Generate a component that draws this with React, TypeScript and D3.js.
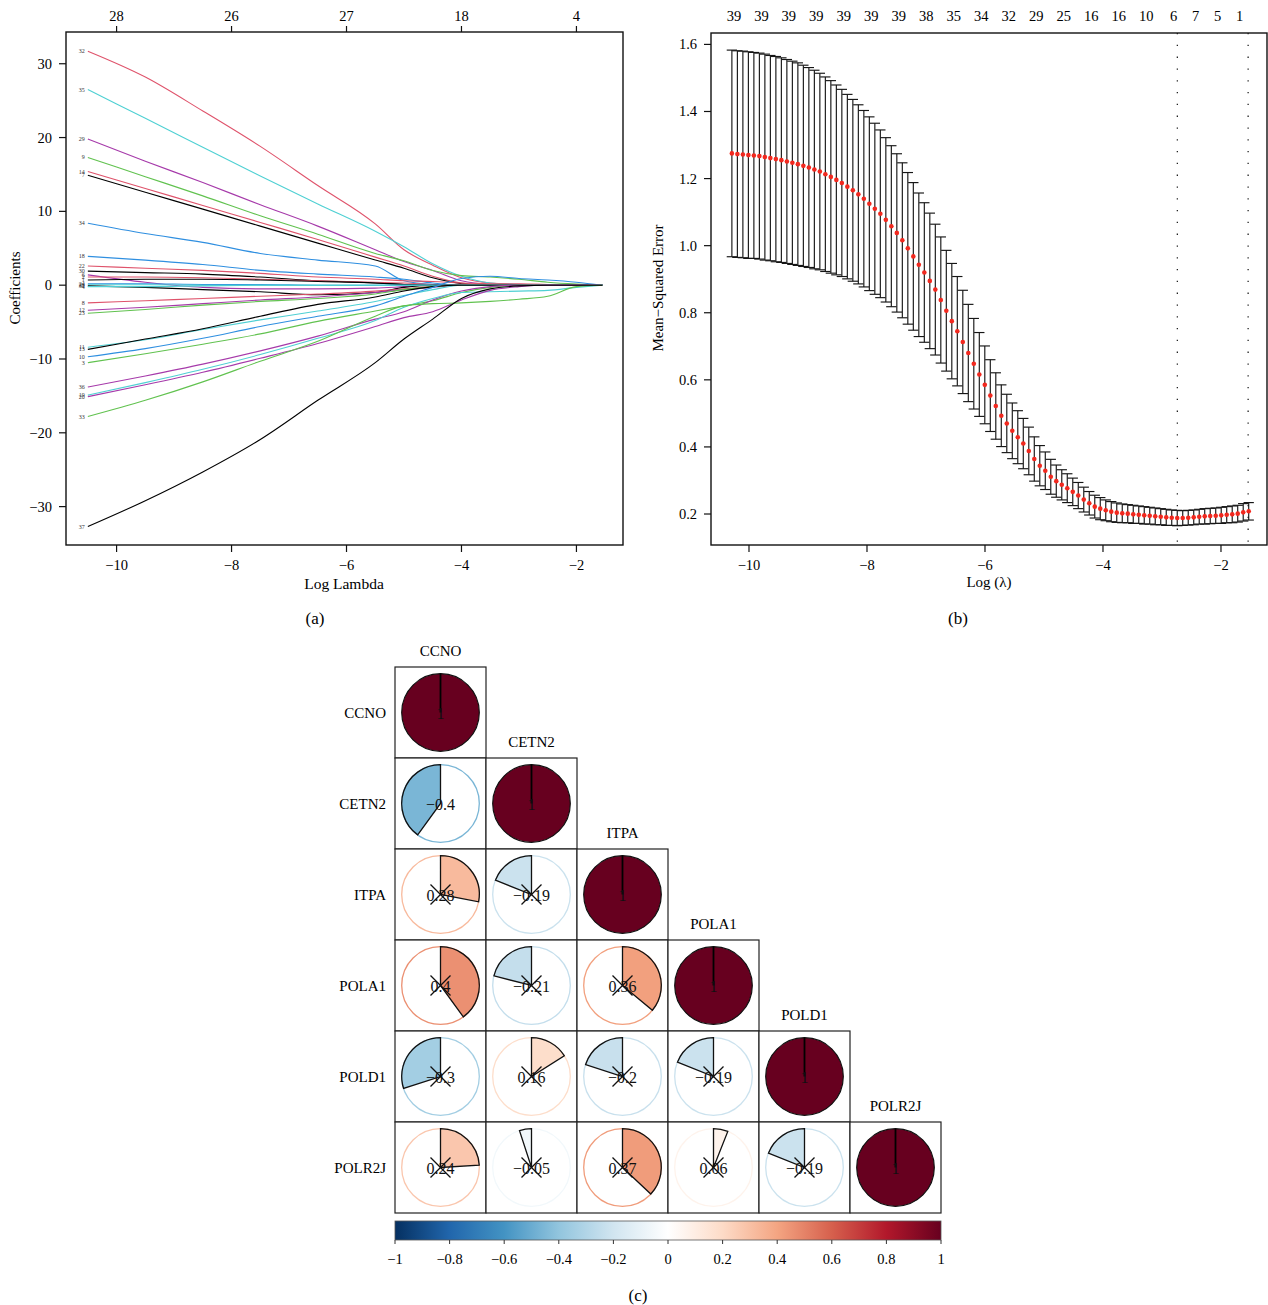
import * as d3 from 'd3'

const FONT = '"Liberation Serif", "DejaVu Serif", serif'

// ---- (a) coefficient paths ----
const lambdaGrid = [-10.5, -9.5, -8.5, -7.5, -6.5, -5.5, -5, -4.5, -4, -3.5, -3, -2.5, -2, -1.55]
const coefLabels = ['32', '35', '29', '9', '14', '7', '34', '18', '22', '30', '6', '2', '1', '24', '28', '31', '4', '8', '12', '23', '11', '13', '10', '3', '36', '19', '20', '33', '37']
const coefColors = ['red', 'cyan', 'magenta', 'green', 'red', 'black', 'blue', 'blue', 'red', 'black', 'magenta', 'red', 'black', 'blue', 'cyan', 'black', 'cyan', 'red', 'magenta', 'green', 'cyan', 'black', 'blue', 'green', 'magenta', 'cyan', 'magenta', 'green', 'black']
const coefValues = [
  [31.7, 28.2, 23.6, 18.8, 13.5, 8.3, 4.8, 2.7, 1.0, 0.3, 0.15, 0.1, 0.05, 0],
  [26.5, 22.6, 18.7, 14.8, 11.0, 7.3, 5.2, 2.9, 1.2, 0.3, 0.1, 0.05, 0, 0],
  [19.8, 16.8, 13.9, 10.9, 8.0, 4.8, 3.2, 2.0, 0.6, 0.1, 0, 0, 0, 0],
  [17.3, 14.7, 12.1, 9.4, 6.9, 4.3, 3.3, 2.0, 1.3, 1.1, 0.8, 0.4, 0.15, 0],
  [15.4, 13.1, 10.8, 8.5, 6.2, 3.8, 2.6, 1.2, 0.3, 0, 0, 0, 0, 0],
  [14.9, 12.6, 10.3, 8.0, 5.7, 3.4, 2.3, 1.0, 0.2, 0, 0, 0, 0, 0],
  [8.4, 7.0, 5.8, 4.3, 3.4, 2.6, 0.6, 0.1, 0, 0, 0, 0, 0, 0],
  [3.9, 3.4, 2.8, 2.0, 1.5, 1.1, 0.8, 0.3, 0, 0, 0, 0, 0, 0],
  [2.6, 2.3, 2.0, 1.6, 1.1, 0.8, 0.6, 0.5, 0.3, 0.2, 0.15, 0.1, 0.05, 0],
  [1.9, 1.7, 1.5, 1.1, 0.6, 0.3, 0.1, 0, 0, 0, 0, 0, 0, 0],
  [1.4, 0.4, -0.3, -0.5, -0.5, -0.4, -0.2, 0, 0, 0, 0, 0, 0, 0],
  [1.1, 1.1, 1.0, 0.8, 0.6, 0.4, 0.3, 0.1, 0, 0, 0, 0, 0, 0],
  [0.7, 0.8, 0.8, 0.7, 0.5, 0.3, 0.1, 0, 0, 0, 0, 0, 0, 0],
  [0.2, 0.2, 0.1, 0.1, 0, 0, 0, 0, 0, 0, 0, 0, 0, 0],
  [0.05, 0.05, 0, 0, 0, 0, 0, 0, 0, 0, 0, 0, 0, 0],
  [-0.1, -0.3, -0.6, -0.9, -1.3, -1.0, -0.3, 0, 0, 0, 0, 0, 0, 0],
  [-0.2, -0.2, -0.1, 0, 0, 0, 0, 0, 0, 0, 0, 0, 0, 0],
  [-2.4, -2.1, -1.8, -1.5, -1.2, -0.8, -0.5, -0.2, 0, 0, 0, 0, 0, 0],
  [-3.4, -3.0, -2.5, -2.0, -1.6, -1.0, -0.6, -0.3, 0, 0, 0, 0, 0, 0],
  [-3.8, -3.3, -2.7, -2.2, -1.8, -1.2, -0.6, -0.2, 0, 0, 0, 0, 0, 0],
  [-8.4, -7.4, -6.0, -4.7, -3.5, -2.2, -1.4, -0.6, 0, 0, 0, 0, 0, 0],
  [-8.7, -7.3, -5.9, -4.2, -2.6, -1.6, -0.8, -0.2, 0, 0, 0, 0, 0, 0],
  [-9.7, -8.6, -7.2, -5.6, -4.2, -2.8, -1.5, -0.3, 0.9, 1.2, 0.9, 0.7, 0.4, 0],
  [-10.5, -9.3, -8.0, -6.6, -4.9, -3.5, -2.8, -2.1, -1.0, -0.3, 0, 0, 0, 0],
  [-13.8, -12.3, -10.7, -8.9, -6.9, -4.6, -3.6, -2.0, -0.8, -0.2, 0, 0, 0, 0],
  [-14.9, -13.2, -11.4, -9.4, -7.2, -4.8, -3.0, -1.8, -1.0, -0.9, -0.8, -0.7, -0.3, 0],
  [-15.1, -13.5, -11.8, -9.9, -7.9, -5.6, -4.4, -3.6, -2.0, -0.7, -0.2, 0, 0, 0],
  [-17.8, -15.6, -13.1, -10.3, -7.6, -4.2, -2.8, -2.5, -2.4, -2.2, -1.9, -1.5, -0.2, 0],
  [-32.7, -29.2, -25.3, -20.9, -15.6, -10.5, -7.3, -4.6, -1.8, -0.5, -0.1, 0, 0, 0],
]
const topTicksA = [-10, -8, -6, -4, -2]
const topCountsA = ['28', '26', '27', '18', '4']

const palette: Record<string, string> = {
  black: '#000000',
  red: '#df536b',
  green: '#61c24f',
  blue: '#2f8fe0',
  cyan: '#4fd0d3',
  magenta: '#a63aaa',
}

// ---- (b) cross-validation curve ----
const cvMean = [
  1.275, 1.273, 1.272, 1.270, 1.269, 1.267, 1.264, 1.261, 1.258, 1.255,
  1.251, 1.247, 1.243, 1.238, 1.233, 1.227, 1.221, 1.213, 1.205, 1.196,
  1.187, 1.176, 1.165, 1.153, 1.140, 1.125, 1.110, 1.095, 1.077, 1.058,
  1.038, 1.016, 0.992, 0.968, 0.943, 0.920, 0.895, 0.869, 0.838, 0.806,
  0.775, 0.745, 0.713, 0.680, 0.648, 0.616, 0.585, 0.553, 0.522, 0.493,
  0.470, 0.448, 0.429, 0.410, 0.388, 0.364, 0.344, 0.329, 0.311, 0.298,
  0.287, 0.277, 0.266, 0.255, 0.243, 0.232, 0.222, 0.216, 0.211, 0.207,
  0.204, 0.202, 0.201, 0.199, 0.198, 0.196, 0.195, 0.193, 0.192, 0.190,
  0.189, 0.188, 0.188, 0.189, 0.190, 0.192, 0.193, 0.194, 0.195, 0.196,
  0.198, 0.199, 0.201, 0.205, 0.208,
]
const cvSe = [
  0.308, 0.308, 0.308, 0.308, 0.307, 0.307, 0.307, 0.306, 0.306, 0.305,
  0.304, 0.303, 0.302, 0.300, 0.298, 0.296, 0.293, 0.290, 0.287, 0.283,
  0.279, 0.275, 0.271, 0.267, 0.263, 0.259, 0.255, 0.250, 0.245, 0.240,
  0.236, 0.231, 0.226, 0.220, 0.214, 0.208, 0.202, 0.195, 0.188, 0.180,
  0.172, 0.163, 0.154, 0.145, 0.135, 0.125, 0.116, 0.107, 0.099, 0.092,
  0.087, 0.083, 0.079, 0.075, 0.071, 0.066, 0.060, 0.056, 0.052, 0.048,
  0.045, 0.043, 0.041, 0.039, 0.037, 0.035, 0.034, 0.033, 0.031, 0.030,
  0.029, 0.028, 0.027, 0.027, 0.026, 0.026, 0.025, 0.025, 0.024, 0.024,
  0.023, 0.023, 0.022, 0.022, 0.022, 0.022, 0.023, 0.023, 0.023, 0.024,
  0.024, 0.025, 0.025, 0.026, 0.026,
]
const lambdaFirst = -10.29
const lambdaLast = -1.53
const nzIndex = [0, 5, 10, 15, 20, 25, 30, 35, 40, 45, 50, 55, 60, 65, 70, 75, 80, 84, 88, 92]
const nzCounts = ['39', '39', '39', '39', '39', '39', '39', '38', '35', '34', '32', '29', '25', '16', '16', '10', '6', '7', '5', '1']
const lambdaMin = -2.74
const lambda1se = -1.54

// ---- (c) correlation ----
const genes = ['CCNO', 'CETN2', 'ITPA', 'POLA1', 'POLD1', 'POLR2J']
const corrLower = [
  [1],
  [-0.4, 1],
  [0.28, -0.19, 1],
  [0.4, -0.21, 0.36, 1],
  [-0.3, 0.16, -0.2, -0.19, 1],
  [0.24, -0.05, 0.37, 0.06, -0.19, 1],
]
const notSignificant = [
  [false],
  [false, false],
  [true, true, false],
  [true, true, true, false],
  [true, true, true, true, false],
  [true, true, true, true, true, false],
]
const rampStops = [-1, -0.8, -0.6, -0.4, -0.2, 0, 0.2, 0.4, 0.6, 0.8, 1]
const rampColors = ['#053061', '#2166ac', '#4393c3', '#92c5de', '#d1e5f0', '#ffffff', '#fddbc7', '#f4a582', '#d6604d', '#b2182b', '#67001f']

function CoefPanel() {
  const x = d3.scaleLinear().domain([-10.88, -1.19]).range([66, 623])
  const y = d3.scaleLinear().domain([-35.2, 34.3]).range([545, 32])
  const line = d3
    .line<number>()
    .x((_, i) => x(lambdaGrid[i]))
    .y((d) => y(d))
    .curve(d3.curveMonotoneX)
  const yTicks = [-30, -20, -10, 0, 10, 20, 30]
  const xTicks = [-10, -8, -6, -4, -2]
  const fmt = d3.format('d')
  return (
    <g fontFamily={FONT}>
      {coefValues.map((vals, i) => (
        <path key={coefLabels[i]} d={line(vals) ?? ''} fill="none" stroke={palette[coefColors[i]]} strokeWidth={1.1} />
      ))}
      {coefValues.map((vals, i) => (
        <text key={`l${coefLabels[i]}`} x={x(lambdaGrid[0]) - 3} y={y(vals[0]) + 2} fontSize={6} textAnchor="end" fill="#333">
          {coefLabels[i]}
        </text>
      ))}
      <rect x={66} y={32} width={557} height={513} fill="none" stroke="#111" strokeWidth={1.4} />
      {yTicks.map((t) => (
        <g key={t}>
          <line x1={59} x2={66} y1={y(t)} y2={y(t)} stroke="#111" strokeWidth={1.2} />
          <text x={52} y={y(t) + 5} fontSize={14.5} textAnchor="end">{fmt(t)}</text>
        </g>
      ))}
      {xTicks.map((t) => (
        <g key={t}>
          <line x1={x(t)} x2={x(t)} y1={545} y2={552} stroke="#111" strokeWidth={1.2} />
          <text x={x(t)} y={570} fontSize={14.5} textAnchor="middle">{fmt(t)}</text>
        </g>
      ))}
      {topTicksA.map((t, i) => (
        <g key={`t${t}`}>
          <line x1={x(t)} x2={x(t)} y1={32} y2={26} stroke="#111" strokeWidth={1.2} />
          <text x={x(t)} y={21} fontSize={14.5} textAnchor="middle">{topCountsA[i]}</text>
        </g>
      ))}
      <text x={344} y={589} fontSize={15.5} textAnchor="middle">Log Lambda</text>
      <text transform="translate(20,288) rotate(-90)" fontSize={15} textAnchor="middle">Coefficients</text>
      <text x={315} y={624} fontSize={17} textAnchor="middle">(a)</text>
    </g>
  )
}

function CvPanel() {
  const x = d3.scaleLinear().domain([-10.644, -1.22]).range([711, 1267])
  const y = d3.scaleLinear().domain([0.1076, 1.634]).range([545, 33])
  const idx = d3.scaleLinear().domain([0, cvMean.length - 1]).range([lambdaFirst, lambdaLast])
  const barW = (lambdaLast - lambdaFirst) * 0.01
  const yTicks = [0.2, 0.4, 0.6, 0.8, 1.0, 1.2, 1.4, 1.6]
  const xTicks = [-10, -8, -6, -4, -2]
  const fy = d3.format('.1f')
  const fx = d3.format('d')
  return (
    <g fontFamily={FONT}>
      {[lambdaMin, lambda1se].map((l) => (
        <line key={l} x1={x(l)} x2={x(l)} y1={33} y2={545} stroke="#111" strokeWidth={1.2} strokeDasharray="1.3 10.5" />
      ))}
      {cvMean.map((m, i) => {
        const l = idx(i)
        const up = y(m + cvSe[i])
        const lo = y(m - cvSe[i])
        return (
          <g key={i} stroke="#161616" strokeWidth={1.15}>
            <line x1={x(l)} x2={x(l)} y1={up} y2={lo} />
            <line x1={x(l - barW)} x2={x(l + barW)} y1={up} y2={up} />
            <line x1={x(l - barW)} x2={x(l + barW)} y1={lo} y2={lo} />
          </g>
        )
      })}
      {cvMean.map((m, i) => (
        <circle key={`p${i}`} cx={x(idx(i))} cy={y(m)} r={2.3} fill="#f2281e" />
      ))}
      <rect x={711} y={33} width={556} height={512} fill="none" stroke="#111" strokeWidth={1.4} />
      {yTicks.map((t) => (
        <g key={t}>
          <line x1={704} x2={711} y1={y(t)} y2={y(t)} stroke="#111" strokeWidth={1.2} />
          <text x={697} y={y(t) + 5} fontSize={14.5} textAnchor="end">{fy(t)}</text>
        </g>
      ))}
      {xTicks.map((t) => (
        <g key={t}>
          <line x1={x(t)} x2={x(t)} y1={545} y2={552} stroke="#111" strokeWidth={1.2} />
          <text x={x(t)} y={570} fontSize={14.5} textAnchor="middle">{fx(t)}</text>
        </g>
      ))}
      {nzIndex.map((k, i) => (
        <text key={`n${k}`} x={x(idx(k)) + 2} y={21} fontSize={14.5} textAnchor="middle">{nzCounts[i]}</text>
      ))}
      <text x={989} y={587} fontSize={15} textAnchor="middle">Log (λ)</text>
      <text transform="translate(663,288) rotate(-90)" fontSize={15} textAnchor="middle">Mean−Squared Error</text>
      <text x={958} y={624} fontSize={17} textAnchor="middle">(b)</text>
    </g>
  )
}

function CorrPanel() {
  const cell = 91
  const left = 395
  const top = 667
  const n = genes.length
  const pos = d3.scaleBand<string>().domain(genes).range([0, cell * n])
  const color = d3.scaleLinear<string>().domain(rampStops).range(rampColors)
  // pie fills in the reference read a touch deeper than the ramp itself
  const fill = (v: number) => color(Math.sign(v) * Math.min(1, Math.abs(v) * 1.15))
  const r = 38.8
  const arc = d3.arc<{ a: number }>()
    .innerRadius(0)
    .outerRadius(r)
    .startAngle(0)
    .endAngle((d) => d.a)
  const fmt = d3.format('')
  const barX = d3.scaleLinear().domain([-1, 1]).range([left, left + cell * n])
  const barTicks = rampStops
  return (
    <g fontFamily={FONT}>
      <defs>
        <linearGradient id="rdbu" x1="0" x2="1" y1="0" y2="0">
          {rampStops.map((s, i) => (
            <stop key={s} offset={(s + 1) / 2} stopColor={rampColors[i]} />
          ))}
        </linearGradient>
      </defs>
      {corrLower.map((row, i) =>
        row.map((v, j) => {
          const cx = left + (pos(genes[j]) ?? 0) + cell / 2
          const cy = top + (pos(genes[i]) ?? 0) + cell / 2
          const diag = i === j
          return (
            <g key={`${i}-${j}`}>
              <rect x={cx - cell / 2} y={cy - cell / 2} width={cell} height={cell} fill="white" stroke="#222" strokeWidth={1.2} />
              {diag ? (
                <>
                  <circle cx={cx} cy={cy} r={r} fill={color(v)} stroke="#111" strokeWidth={1.2} />
                  <line x1={cx} x2={cx} y1={cy} y2={cy - r} stroke="#000" strokeWidth={1.8} />
                </>
              ) : (
                <>
                  <circle cx={cx} cy={cy} r={r} fill="white" stroke={fill(v)} strokeWidth={1.3} />
                  <path d={arc({ a: v * 2 * Math.PI }) ?? ''} transform={`translate(${cx},${cy})`} fill={fill(v)} stroke="#111" strokeWidth={1.3} />
                </>
              )}
              <text x={cx} y={cy + 6} fontSize={16} textAnchor="middle" fill="#111">{fmt(v)}</text>
              {notSignificant[i][j] && (
                <g stroke="#111" strokeWidth={1.3}>
                  <line x1={cx - 10} x2={cx + 10} y1={cy - 10} y2={cy + 10} />
                  <line x1={cx - 10} x2={cx + 10} y1={cy + 10} y2={cy - 10} />
                </g>
              )}
            </g>
          )
        })
      )}
      {genes.map((g) => (
        <g key={g}>
          <text x={left + (pos(g) ?? 0) + cell / 2} y={top + (pos(g) ?? 0) - 11} fontSize={15} textAnchor="middle">{g}</text>
          <text x={386} y={top + (pos(g) ?? 0) + cell / 2 + 5} fontSize={15} textAnchor="end">{g}</text>
        </g>
      ))}
      <rect x={left} y={1221} width={cell * n} height={19} fill="url(#rdbu)" stroke="#555" strokeWidth={0.8} />
      {barTicks.map((t) => (
        <g key={t}>
          <line x1={barX(t)} x2={barX(t)} y1={1240} y2={1244} stroke="#333" strokeWidth={1} />
          <text x={barX(t)} y={1264} fontSize={14.5} textAnchor="middle">{fmt(t)}</text>
        </g>
      ))}
      <text x={638} y={1301} fontSize={17} textAnchor="middle">(c)</text>
    </g>
  )
}

export default function App() {
  return (
    <svg width={1268} height={1305} style={{ position: 'absolute', left: 0, top: 0, background: 'white' }}>
      <rect width={1268} height={1305} fill="white" />
      <CoefPanel />
      <CvPanel />
      <CorrPanel />
    </svg>
  )
}
